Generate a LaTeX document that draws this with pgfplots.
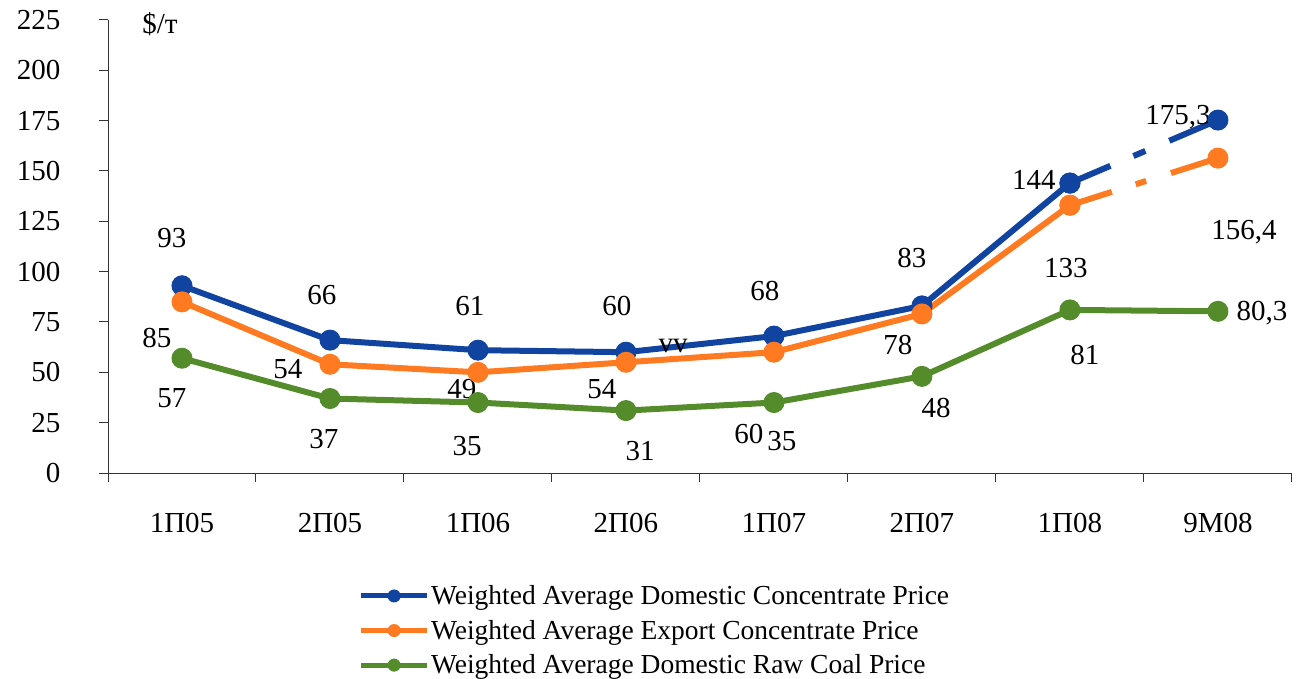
\documentclass[border=0pt]{standalone}
\usepackage{fontspec}
\setmainfont{Liberation Serif}
\usepackage{pgfplots}
\pgfplotsset{compat=1.18}
\definecolor{cblue}{RGB}{16,68,160}
\definecolor{corange}{RGB}{255,122,33}
\definecolor{cgreen}{RGB}{84,140,44}
\newcommand\lbl{\fontsize{29bp}{34bp}\selectfont}
\newcommand\lgd{\fontsize{27.5bp}{31bp}\selectfont}
\begin{document}
\begin{tikzpicture}
\useasboundingbox (0,0) rectangle (1297bp,679bp);
\begin{axis}[
  at={(108bp,206bp)}, anchor=south west,
  width=1184bp, height=453bp, scale only axis,
  xmin=-0.5, xmax=7.5, ymin=0, ymax=225,
  axis x line=bottom, axis y line=left,
  axis line style={-, line width=1bp, black!80},
  tick style={line width=1bp, black!80},
  tick align=outside, major tick length=9bp,
  ytick={0,25,...,225},
  xtick={-0.5,0.5,...,7.5}, xticklabels={},
  extra x ticks={0,1,2,3,4,5,6,7},
  extra x tick labels={1П05,2П05,1П06,2П06,1П07,2П07,1П08,9М08},
  extra x tick style={major tick length=0pt, tick label style={yshift=-37bp}},
  /pgf/number format/assume math mode=true,
  tick label style={font=\lbl},
  yticklabel style={xshift=-35bp},
  clip=false,
  legend style={at={(0.2115,-0.245)}, anchor=north west, draw=none, fill=none,
    font=\lgd, inner sep=0pt, row sep=11bp,
    nodes={inner sep=1.5bp, anchor=west}},
  legend cell align=left,
  legend image code/.code={\draw[#1, line width=5bp, mark size=6bp, mark repeat=2, mark phase=2, mark options={line width=1bp}] plot coordinates {(0bp,0bp) (33bp,0bp) (66bp,0bp)};},
  every axis plot/.append style={line width=6bp, mark=*, mark size=10bp, mark options={solid, line width=1bp}},
]
\addplot[cblue] coordinates {(0,93)(1,66)(2,61)(3,60)(4,68)(5,83)(6,144)};
\addlegendentry{Weighted Average Domestic Concentrate Price}
\addplot[cblue, line cap=butt, dash pattern=on 44bp off 25bp on 13bp off 26bp on 120bp, forget plot] coordinates {(6,144)(7,175.3)};
\addplot[corange] coordinates {(0,85)(1,54)(2,50)(3,55)(4,60)(5,79)(6,133)};
\addlegendentry{Weighted Average Export Concentrate Price}
\addplot[corange, line cap=butt, dash pattern=on 44bp off 25bp on 11bp off 26bp on 120bp, forget plot] coordinates {(6,133)(7,156.4)};
\addplot[cgreen] coordinates {(0,57)(1,37)(2,35)(3,31)(4,35)(5,48)(6,81)(7,80.3)};
\addlegendentry{Weighted Average Domestic Raw Coal Price}
\draw[black!80, line width=1bp] (axis cs:-0.5,0) -- ++(-10bp,0);
\begin{scope}[every node/.style={font=\lbl, inner sep=0pt}]
\node at (axis cs:-0.068,116.7) {93};
\node at (axis cs:0.946,88.4) {66};
\node at (axis cs:1.946,82.9) {61};
\node at (axis cs:2.939,82.9) {60};
\node at (axis cs:3.939,90.4) {68};
\node at (axis cs:4.932,106.8) {83};
\node at (axis cs:5.757,145.5) {144};
\node at (axis cs:6.730,176.8) {175,3};
\node at (axis cs:-0.169,67.1) {85};
\node at (axis cs:0.716,51.7) {54};
\node at (axis cs:1.892,41.7) {49};
\node at (axis cs:2.838,41.7) {54};
\node at (axis cs:3.831,19.4) {60};
\node at (axis cs:4.838,63.6) {78};
\node at (axis cs:5.973,101.8) {133};
\node at (axis cs:7.176,119.7) {156,4};
\node at (axis cs:-0.068,37.3) {57};
\node at (axis cs:0.959,16.9) {37};
\node at (axis cs:1.926,13.4) {35};
\node at (axis cs:3.095,10.9) {31};
\node at (axis cs:4.054,15.9) {35};
\node at (axis cs:5.095,32.3) {48};
\node at (axis cs:6.101,58.6) {81};
\node at (axis cs:7.297,79.5) {80,3};
\node at (axis cs:3.318,63.0) {vv};
\node at (axis cs:-0.149,223) {\$/т};
\end{scope}
\end{axis}
\end{tikzpicture}
\end{document}
